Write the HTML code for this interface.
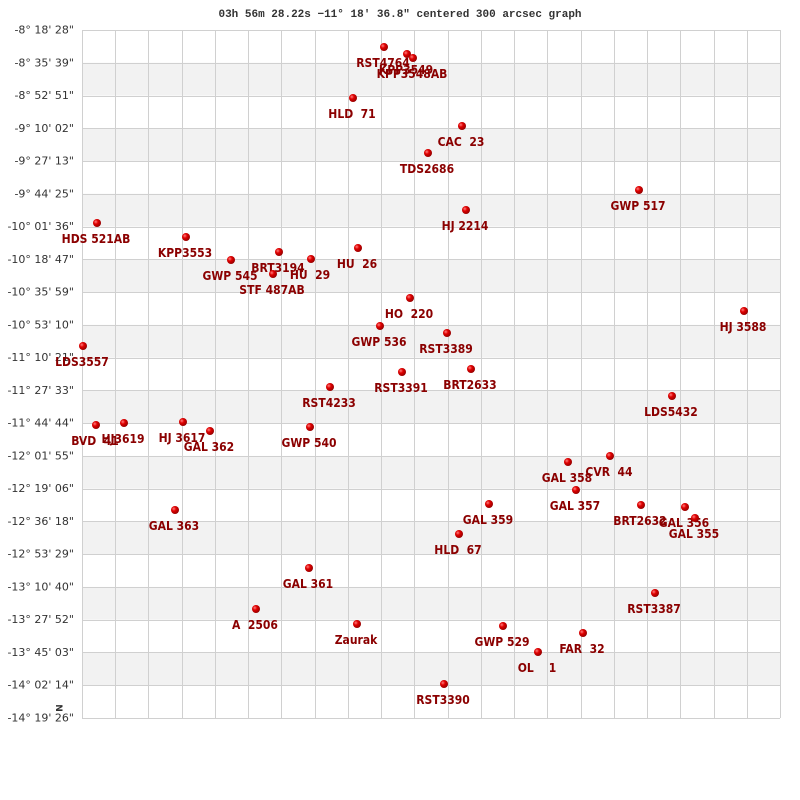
<!DOCTYPE html>
<html><head><meta charset="utf-8"><style>
body{margin:0;background:#fff}
svg{display:block}
.ax{font-family:"DejaVu Sans","Liberation Sans",sans-serif;font-size:11px;fill:#333;text-anchor:end;dominant-baseline:central}
.lb{font-family:"DejaVu Sans Condensed","DejaVu Sans","Liberation Sans",sans-serif;font-weight:bold;font-stretch:condensed;font-size:12px;fill:#8b0000;text-anchor:middle}
</style></head><body>
<svg width="800" height="800" xmlns="http://www.w3.org/2000/svg">
<defs><radialGradient id="g" cx="0.35" cy="0.35" r="0.7"><stop offset="0" stop-color="#ff8080"/><stop offset="0.4" stop-color="#e00000"/><stop offset="1" stop-color="#900000"/></radialGradient></defs>
<text x="400" y="17" text-anchor="middle" font-family="Liberation Mono,monospace" font-size="11" font-weight="bold" fill="#333">03h 56m 28.22s −11° 18′ 36.8" centered 300 arcsec graph</text>
<g id="bands"></g>
<g id="grid" stroke="#d0d0d0" stroke-width="1"></g>
<g id="ax"></g>
<text x="56" y="708" font-family="DejaVu Sans,sans-serif" font-size="9" font-weight="bold" fill="#333" text-anchor="middle" transform="rotate(90 56 708)">N</text>
<g id="pts"></g>
</svg>
<script>
var ns="http://www.w3.org/2000/svg";
function el(p,t,a,txt){var e=document.createElementNS(ns,t);for(var k in a)e.setAttribute(k,a[k]);if(txt)e.textContent=txt;document.getElementById(p).appendChild(e);}
var labs=["-8° 18' 28\"","-8° 35' 39\"","-8° 52' 51\"","-9° 10' 02\"","-9° 27' 13\"","-9° 44' 25\"","-10° 01' 36\"","-10° 18' 47\"","-10° 35' 59\"","-10° 53' 10\"","-11° 10' 21\"","-11° 27' 33\"","-11° 44' 44\"","-12° 01' 55\"","-12° 19' 06\"","-12° 36' 18\"","-12° 53' 29\"","-13° 10' 40\"","-13° 27' 52\"","-13° 45' 03\"","-14° 02' 14\"","-14° 19' 26\""];
var x0=82,x1=780,y0=30,y1=718,dy=(y1-y0)/21,dx=(x1-x0)/21;
for(var i=0;i<21;i++){if(i%2==1)el("bands","rect",{x:x0,y:y0+i*dy,width:x1-x0,height:dy,fill:"#f2f2f2"});}
for(var i=0;i<=21;i++){var y=Math.round(y0+i*dy)+0.5;el("grid","line",{x1:x0,x2:x1,y1:y,y2:y});var x=Math.round(x0+i*dx)+0.5;el("grid","line",{x1:x,x2:x,y1:y0,y2:y1});
el("ax","text",{x:74,y:y0+i*dy,"class":"ax"},labs[i]);}
var P=[["RST4764",384,47],["KPP3549",407,54],["KPP3548AB",413,58],["HLD  71",353,98],["CAC  23",462,126],["TDS2686",428,153],["GWP 517",639,190],["HJ 2214",466,210],["HDS 521AB",97,223],["KPP3553",186,237],["GWP 545",231,260],["BRT3194",279,252],["HU  29",311,259],["HU  26",358,248],["STF 487AB",273,274],["HO  220",410,298],["HJ 3588",744,311],["GWP 536",380,326],["RST3389",447,333],["LDS3557",83,346],["RST3391",402,372],["BRT2633",471,369],["RST4233",330,387],["LDS5432",672,396],["BVD  41",96,425],["HJ3619",124,423],["HJ 3617",183,422],["GAL 362",210,431],["GWP 540",310,427],["CVR  44",610,456],["GAL 358",568,462],["GAL 357",576,490],["GAL 359",489,504],["BRT2632",641,505],["GAL 356",685,507],["GAL 355",695,518],["GAL 363",175,510],["HLD  67",459,534],["GAL 361",309,568],["RST3387",655,593],["A  2506",256,609],["Zaurak",357,624],["GWP 529",503,626],["FAR  32",583,633],["OL    1",538,652],["RST3390",444,684]];
P.forEach(function(p){el("pts","circle",{cx:p[1],cy:p[2],r:4,fill:"url(#g)"});var t=el("pts","text",{x:p[1]-1,y:p[2]+20,"class":"lb","xml:space":"preserve"},p[0]);});
document.querySelectorAll(".lb").forEach(function(t){t.style.whiteSpace="pre";});
</script>
</body></html>
